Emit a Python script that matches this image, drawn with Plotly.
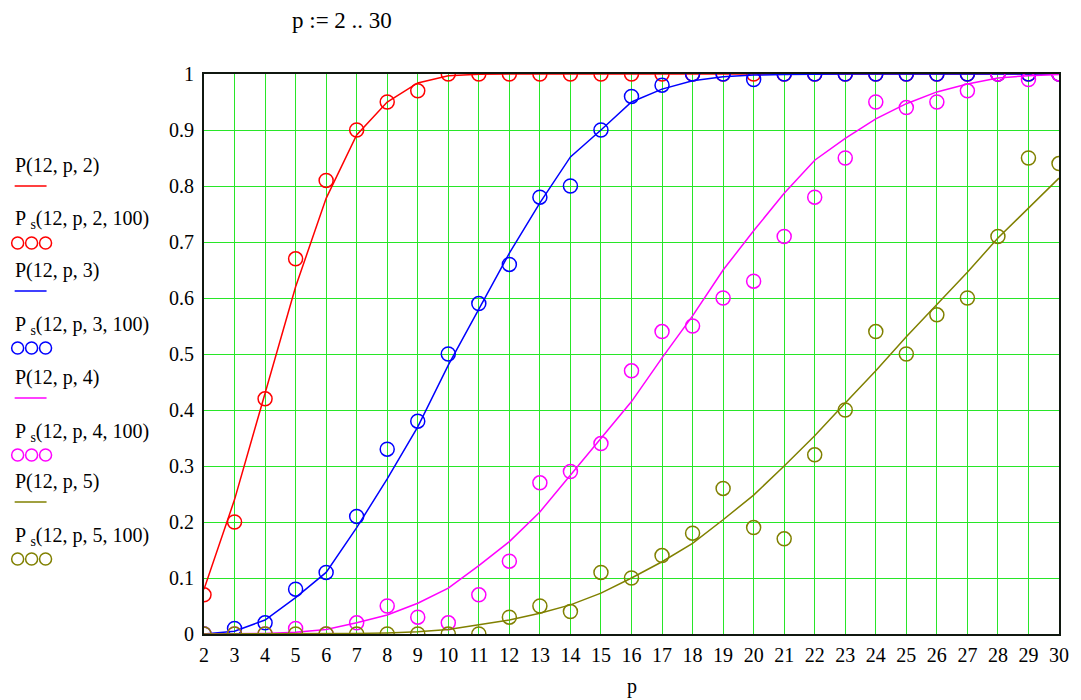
import plotly.graph_objects as go

p = list(range(2, 31))

# P(12,p,k) curves
P2 = [0.08, 0.24, 0.43, 0.62, 0.778, 0.891, 0.95, 0.984, 0.997, 0.9995, 1, 1, 1, 1, 1,
      1, 1, 1, 1, 1, 1, 1, 1, 1, 1, 1, 1, 1, 1]
P3 = [0.0, 0.005, 0.025, 0.065, 0.11, 0.19, 0.277, 0.37, 0.48, 0.58, 0.68, 0.77, 0.852, 0.90, 0.95,
      0.973, 0.988, 0.995, 0.998, 0.999, 1, 1, 1, 1, 1, 1, 1, 1, 1]
P4 = [0.0, 0.0, 0.001, 0.003, 0.008, 0.02, 0.034, 0.055, 0.082, 0.122, 0.165, 0.218, 0.284, 0.35, 0.415,
      0.493, 0.568, 0.65, 0.72, 0.787, 0.846, 0.885, 0.92, 0.947, 0.968, 0.982, 0.993, 0.997, 0.999]
P5 = [0.0, 0.0, 0.0, 0.0, 0.0005, 0.001, 0.002, 0.004, 0.008, 0.016, 0.025, 0.037, 0.052, 0.073, 0.10,
      0.129, 0.162, 0.204, 0.248, 0.30, 0.354, 0.4125, 0.47, 0.531, 0.589, 0.646, 0.707, 0.761, 0.814]

# Ps(12,p,k,100) simulated points
S2 = [0.07, 0.20, 0.42, 0.67, 0.81, 0.90, 0.95, 0.97, 1.00, 1.00, 1.00, 1.00, 1.00, 1.00, 1.00,
      1.00, 1.00, 1.00, 1.00, 1.00, 1.00, 1.00, 1.00, 1.00, 1.00, 1.00, 1.00, 1.00, 1.00]
S3 = [0.00, 0.01, 0.02, 0.08, 0.11, 0.21, 0.33, 0.38, 0.50, 0.59, 0.66, 0.78, 0.80, 0.90, 0.96,
      0.98, 1.00, 1.00, 0.99, 1.00, 1.00, 1.00, 1.00, 1.00, 1.00, 1.00, 1.00, 1.00, 1.00]
S4 = [0.00, 0.00, 0.00, 0.01, 0.00, 0.02, 0.05, 0.03, 0.02, 0.07, 0.13, 0.27, 0.29, 0.34, 0.47,
      0.54, 0.55, 0.60, 0.63, 0.71, 0.78, 0.85, 0.95, 0.94, 0.95, 0.97, 1.00, 0.99, 1.00]
S5 = [0.00, 0.00, 0.00, 0.00, 0.00, 0.00, 0.00, 0.00, 0.00, 0.00, 0.03, 0.05, 0.04, 0.11, 0.10,
      0.14, 0.18, 0.26, 0.19, 0.17, 0.32, 0.40, 0.54, 0.50, 0.57, 0.60, 0.71, 0.85, 0.84]

colors = ["#ff0000", "#0000ff", "#ff00ff", "#808000"]
ks = ["2", "3", "4", "5"]
curves = [P2, P3, P4, P5]
sims = [S2, S3, S4, S5]

FONT = "Liberation Serif, Times New Roman, serif"

fig = go.Figure()
for c, cur, sim in zip(colors, curves, sims):
    fig.add_trace(go.Scatter(x=p, y=cur, mode="lines", line=dict(color=c, width=1.5),
                             showlegend=False, hoverinfo="skip"))
    fig.add_trace(go.Scatter(x=p, y=sim, mode="markers",
                             marker=dict(symbol="circle-open", size=14, color=c,
                                         line=dict(color=c, width=1.5)),
                             showlegend=False, hoverinfo="skip"))

grid = "rgb(40,230,40)"
fig.update_xaxes(range=[2, 30], tickvals=p, ticktext=[str(v) for v in p],
                 showgrid=True, gridcolor=grid, gridwidth=1.2,
                 showline=True, linecolor="#101810", linewidth=2, mirror=True,
                 ticks="", zeroline=False, ticklabelstandoff=2,
                 tickfont=dict(family=FONT, size=20, color="black"))
fig.update_yaxes(range=[0, 1], tickvals=[i / 10 for i in range(11)],
                 ticktext=["0"] + [f"0.{i}" for i in range(1, 10)] + ["1"],
                 showgrid=True, gridcolor=grid, gridwidth=1.2,
                 showline=True, linecolor="#101810", linewidth=2, mirror=True,
                 ticks="", zeroline=False, ticklabelstandoff=4,
                 tickfont=dict(family=FONT, size=20, color="black"))

# page body has an 8px margin; compensate so the plot lands where the reference has it
OFF = 8
W, H = 1081 - OFF, 700 - OFF
L, R, T, B = 204 - OFF, 19, 74 - OFF, 66
pw, ph = W - L - R, H - T - B

def px(x):
    return (x - OFF - L) / pw

def py(y):
    return (H - B - (y - OFF)) / ph

annotations = [
    dict(text="p := 2 .. 30", x=px(290), y=py(21), xanchor="left", yanchor="middle",
         font=dict(family=FONT, size=23, color="black")),
    dict(text="p", x=px(633), y=py(686), xanchor="center", yanchor="middle",
         font=dict(family=FONT, size=20, color="black")),
]
shapes = []
group_y = [165, 270, 377, 481]
for k, c, gy in zip(ks, colors, group_y):
    annotations.append(dict(text=f"P(12, p, {k})", x=px(12), y=py(gy), xanchor="left",
                            yanchor="middle", font=dict(family=FONT, size=20, color="black")))
    shapes.append(dict(type="line", xref="paper", yref="paper", x0=px(14), x1=px(46),
                       y0=py(gy + 21), y1=py(gy + 21), line=dict(color=c, width=1.5)))
    annotations.append(dict(text=f"P <sub>s</sub>(12, p, {k}, 100)", x=px(12), y=py(gy + 55),
                            xanchor="left", yanchor="middle",
                            font=dict(family=FONT, size=20, color="black")))
    for i in range(3):
        cx = 17 + i * 14
        cy = gy + 78
        shapes.append(dict(type="circle", xref="paper", yref="paper",
                           xsizemode="pixel", ysizemode="pixel",
                           xanchor=px(cx), yanchor=py(cy), x0=-6, x1=6, y0=-6, y1=6,
                           line=dict(color=c, width=1.5)))

fig.update_layout(width=W, height=H, margin=dict(l=L, r=R, t=T, b=B, pad=0),
                  plot_bgcolor="white", paper_bgcolor="white",
                  annotations=[dict(a, xref="paper", yref="paper", showarrow=False) for a in annotations],
                  shapes=shapes, showlegend=False)

fig.write_html("out.html")
